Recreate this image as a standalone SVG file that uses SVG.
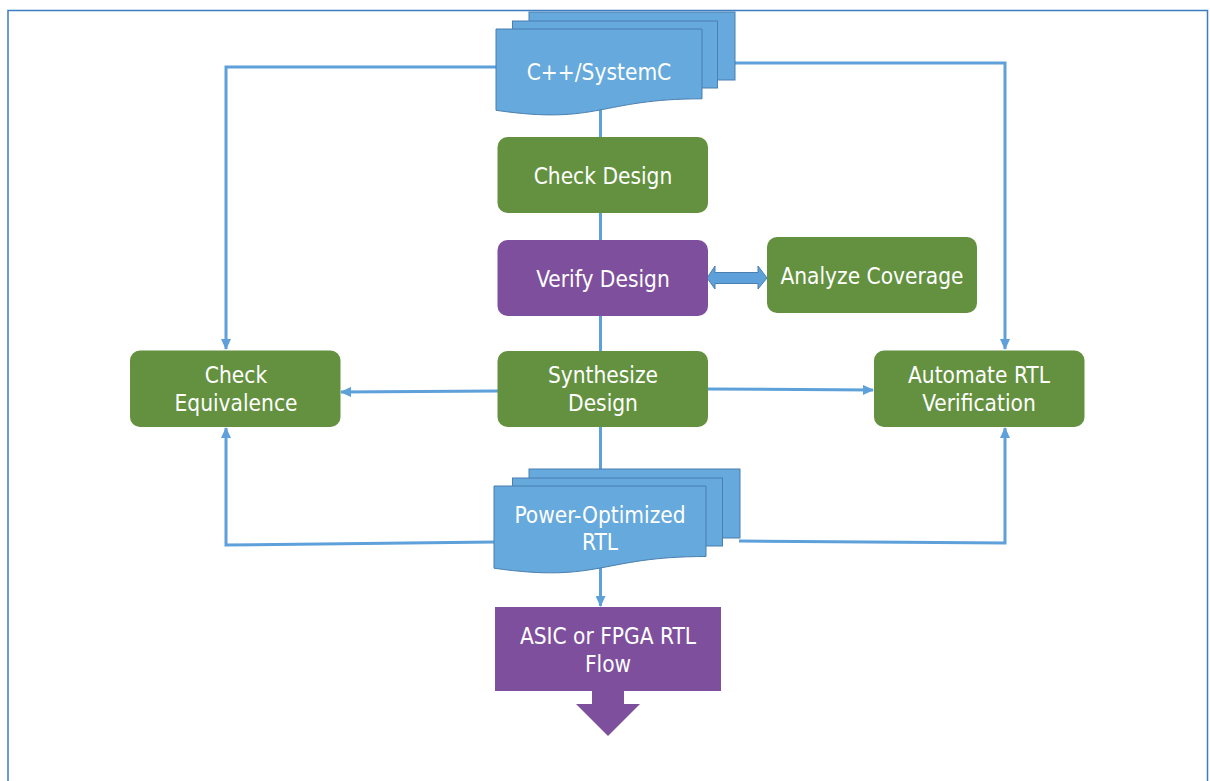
<svg xmlns="http://www.w3.org/2000/svg" width="1210" height="781" viewBox="0 0 1210 781">
  <style>
    .lbl { font-family: "DejaVu Sans Condensed", "DejaVu Sans", sans-serif; font-stretch: condensed; font-size: 22.5px; fill: #ffffff; text-anchor: middle; }
    .green { fill: #63913F; }
    .purple { fill: #7E4F9D; }
    .doc { fill: #65A9DD; stroke: #4A7FAF; stroke-width: 1; }
    .wire { fill: none; stroke: #5DA0DA; stroke-width: 3; }
  </style>
  <defs>
    <marker id="arrow" markerWidth="11" markerHeight="10" refX="10" refY="5" orient="auto" markerUnits="userSpaceOnUse">
      <path d="M0,0 L11,5 L0,10 Z" fill="#5DA0DA"/>
    </marker>
  </defs>

  <rect width="1210" height="781" fill="#ffffff"/>
  <!-- outer frame -->
  <rect x="8" y="10.5" width="1199.5" height="790" fill="none" stroke="#3B7CC2" stroke-width="1.5"/>

  <!-- connectors -->
  <g id="connectors">
    <line class="wire" x1="600.5" y1="100" x2="600.5" y2="606" marker-end="url(#arrow)"/>
    <polyline class="wire" points="497,67 226,67 226,349" marker-end="url(#arrow)"/>
    <polyline class="wire" points="735,63 1005,63 1005,349" marker-end="url(#arrow)"/>
    <polyline class="wire" points="495,542 226,545 226,428" marker-end="url(#arrow)"/>
    <polyline class="wire" points="739,541 1005,543 1005,428" marker-end="url(#arrow)"/>
    <line class="wire" x1="498" y1="391" x2="341" y2="392" marker-end="url(#arrow)"/>
    <line class="wire" x1="707" y1="389" x2="873" y2="390" marker-end="url(#arrow)"/>
    <!-- two-way link between Verify Design and Analyze Coverage -->
    <path d="M707,278 L715,266 L715,272.5 L758,272.5 L758,266 L767,278 L758,289 L758,283.5 L715,283.5 L715,289 Z" fill="#5DA0DA" stroke="#4A7FAF" stroke-width="1"/>
  </g>

  <!-- C++/SystemC source documents -->
  <g id="cpp-systemc">
    <rect class="doc" x="529" y="12" width="206" height="68"/>
    <rect class="doc" x="512.5" y="21" width="205" height="67"/>
    <path class="doc" d="M496,29 L702,29 L702,98.8 C599,98.8 599,125.3 496,110.3 Z"/>
    <text class="lbl" x="599" y="80">C++/SystemC</text>
  </g>

  <g id="check-design">
    <rect class="green" x="497.5" y="137" width="210.5" height="76" rx="10"/>
    <text class="lbl" x="603" y="184">Check Design</text>
  </g>

  <g id="verify-design">
    <rect class="purple" x="497.5" y="240" width="210.5" height="76" rx="10"/>
    <text class="lbl" x="603" y="287">Verify Design</text>
  </g>

  <g id="analyze-coverage">
    <rect class="green" x="767" y="237" width="210" height="76" rx="10"/>
    <text class="lbl" x="872" y="284">Analyze Coverage</text>
  </g>

  <g id="synthesize-design">
    <rect class="green" x="497.5" y="351" width="210.5" height="76" rx="10"/>
    <text class="lbl" x="603" y="383">Synthesize</text>
    <text class="lbl" x="603" y="411">Design</text>
  </g>

  <g id="check-equivalence">
    <rect class="green" x="130" y="350.5" width="210.5" height="76.5" rx="10"/>
    <text class="lbl" x="236" y="383">Check</text>
    <text class="lbl" x="236" y="411">Equivalence</text>
  </g>

  <g id="automate-rtl-verification">
    <rect class="green" x="874" y="350.5" width="210.5" height="76.5" rx="10"/>
    <text class="lbl" x="979" y="383">Automate RTL</text>
    <text class="lbl" x="979" y="411">Verification</text>
  </g>

  <!-- Power-optimized RTL output documents -->
  <g id="power-optimized-rtl">
    <rect class="doc" x="529" y="469" width="211" height="69"/>
    <rect class="doc" x="512.5" y="478" width="210" height="68"/>
    <path class="doc" d="M494,486 L706,486 L706,556.5 C600,556.5 600,583.4 494,568.2 Z"/>
    <text class="lbl" x="600" y="523">Power-Optimized</text>
    <text class="lbl" x="600" y="550">RTL</text>
  </g>

  <g id="asic-fpga-flow">
    <rect class="purple" x="495" y="607" width="226" height="84"/>
    <path class="purple" d="M592,690 L624,690 L624,704 L640,704 L608,736 L576,704 L592,704 Z"/>
    <text class="lbl" x="608" y="644">ASIC or FPGA RTL</text>
    <text class="lbl" x="608" y="672">Flow</text>
  </g>
</svg>
